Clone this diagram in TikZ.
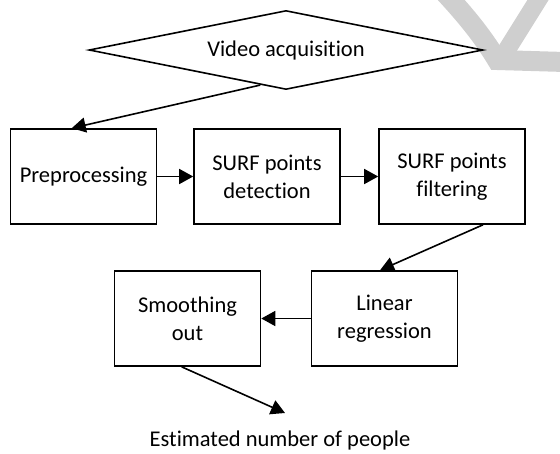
\documentclass[tikz,border=0pt]{standalone}
\usepackage{fontspec}
\setmainfont{Carlito}[RawFeature=-liga]
\usetikzlibrary{shapes.geometric,arrows.meta,calc}
\definecolor{markgray}{gray}{0.81}
\begin{document}
\begin{tikzpicture}[x=1pt,y=-1pt,
  every node/.style={font=\fontsize{22.5}{28}\selectfont, align=center, inner sep=0pt},
  stepbox/.style={draw, line width=1.6pt, minimum width=146pt, minimum height=95pt},
  flow/.style={line width=1.6pt, -{Triangle[length=14pt,width=15pt]}}]
\useasboundingbox (0,0) rectangle (560,453);
% grey logo strokes in the upper right corner
\draw[markgray, line width=20pt, line join=miter] (444,-8) .. controls (470,20) and (485,40) .. (497,60) -- (565,62);
\draw[markgray, line width=18pt] (543,-8) -- (503,56);
% start node
\node[draw, shape=diamond, shape aspect=5, line width=1.6pt, minimum width=394pt, minimum height=79pt] (vid) at (286,50) {Video acquisition};
% first row
\node[stepbox] (pre) at (83.5,176.5) {Preprocessing};
\node[stepbox] (det) at (267,176.5) {SURF points\\detection};
\node[stepbox] (fil) at (452,176.5) {SURF points\\filtering};
% second row
\node[stepbox] (smo) at (187.5,318.5) {Smoothing\\out};
\node[stepbox] (lin) at (384.5,318.5) {Linear\\regression};
% result
\node (out) at (280,440) {Estimated number of people};
\coordinate (outtip) at (285,413);
% connectors
\draw[flow] ($(vid.south)!0.13!(vid.west)$) -- ($(pre.north west)!0.42!(pre.north east)$);
\draw[flow] (pre) -- (det);
\draw[flow] (det) -- (fil);
\draw[flow] ($(fil.south west)!0.71!(fil.south east)$) -- ($(lin.north west)!0.47!(lin.north east)$);
\draw[flow] (lin) -- (smo);
\draw[flow] ($(smo.south west)!0.46!(smo.south east)$) -- (outtip);
\end{tikzpicture}
\end{document}
